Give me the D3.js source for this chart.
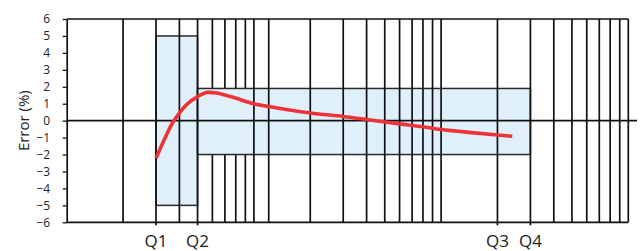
<!DOCTYPE html>
<html><head><meta charset="utf-8">
<script src="https://cdn.jsdelivr.net/npm/d3@7"></script>
<style>body{margin:0;background:#fff}</style>
</head><body><svg id="c" width="641" height="251"></svg>
<script>
// ---- data ----
const gridUnder = [6, 7, 8, 9];
const gridOver = [2, 3, 4, 5, 10, 12, 20, 30, 40, 50, 60, 70, 80, 90, 100, 200, 300, 400, 500, 600, 700, 800, 900, 1000];
const qNames = ["Q1", "Q2", "Q3", "Q4"];
const qValues = [3, 5, 200, 300];
const yTicks = [6, 5, 4, 3, 2, 1, 0, -1, -2, -3, -4, -5, -6];
const boxX0 = [3, 5];
const boxX1 = [5, 300];
const boxLow = [-5, -2];
const boxHigh = [5, 1.9];
const curveX = [3, 3.4, 3.7, 4, 4.4, 5, 5.6, 6.3, 7.5, 10, 12, 20, 30, 40, 60, 80, 100, 150, 200, 240];
const curveY = [-2.22, -0.88, -0.08, 0.45, 0.98, 1.42, 1.66, 1.63, 1.42, 1.0, 0.83, 0.45, 0.25, 0.07, -0.19, -0.36, -0.52, -0.72, -0.85, -0.92];

// ---- layout ----
const W = 641, H = 251;
const m = {left: 66.7, right: 12.7, top: 19, bottom: 28.7};
const svg = d3.select("#c");
const x = d3.scaleLog().domain([1, 1000]).range([m.left, W - m.right]);
const y = d3.scaleLinear().domain([-6, 6]).range([H - m.bottom, m.top]);
const font = "'Open Sans', 'Noto Sans', sans-serif";
const gridCol = "#111";

function drawGrid(vals) {
  svg.append("g").selectAll("line").data(vals).join("line")
    .attr("x1", d => x(d)).attr("x2", d => x(d))
    .attr("y1", y(6)).attr("y2", y(-6))
    .attr("stroke", gridCol).attr("stroke-width", 1.7);
}

drawGrid(gridUnder);

// boxes
const boxes = boxX0.map((d, i) => ({x0: d, x1: boxX1[i], lo: boxLow[i], hi: boxHigh[i]}));
svg.append("g").selectAll("rect").data(boxes).join("rect")
  .attr("x", d => x(d.x0)).attr("width", d => x(d.x1) - x(d.x0))
  .attr("y", d => y(d.hi)).attr("height", d => y(d.lo) - y(d.hi))
  .attr("fill", "#dff0fa").attr("stroke", "#2a2a2a").attr("stroke-width", 1.5);

drawGrid(gridOver);

// Q ticks below
svg.append("g").selectAll("line").data(qValues).join("line")
  .attr("x1", d => x(d)).attr("x2", d => x(d))
  .attr("y1", y(-6)).attr("y2", y(-6) + 3)
  .attr("stroke", gridCol).attr("stroke-width", 1.7);

// frame top/bottom
svg.append("g").selectAll("line").data([6, -6]).join("line")
  .attr("x1", x(1)).attr("x2", x(1000))
  .attr("y1", d => y(d)).attr("y2", d => y(d))
  .attr("stroke", gridCol).attr("stroke-width", 1.7);

// zero line
svg.append("line")
  .attr("x1", x(1)).attr("x2", W - 4)
  .attr("y1", y(0)).attr("y2", y(0))
  .attr("stroke", gridCol).attr("stroke-width", 1.7);

// y axis
const yAxis = d3.axisLeft(y).tickValues(yTicks).tickFormat(d3.format("d"))
  .tickSize(4).tickSizeOuter(0).tickPadding(12.5);
const gy = svg.append("g").attr("transform", `translate(${m.left},0)`).call(yAxis);
gy.select(".domain").attr("stroke", gridCol).attr("stroke-width", 1.7);
gy.selectAll(".tick line").attr("stroke", gridCol).attr("stroke-width", 1.3);
gy.selectAll(".tick text").attr("font-family", font).attr("font-size", 12).attr("fill", "#222");

// curve
const pts = curveX.map((d, i) => [x(d), y(curveY[i])]);
svg.append("path").attr("d", d3.line().curve(d3.curveCatmullRom.alpha(0.5))(pts))
  .attr("fill", "none").attr("stroke", "#ee3338").attr("stroke-width", 3.6);

// Q labels
svg.append("g").selectAll("text").data(qNames).join("text")
  .attr("x", (d, i) => x(qValues[i])).attr("y", 247)
  .attr("text-anchor", "middle")
  .attr("font-family", font).attr("font-size", 17).attr("fill", "#222")
  .text(d => d);

// y label
svg.append("text")
  .attr("transform", `translate(29,${y(0)}) rotate(-90)`)
  .attr("text-anchor", "middle")
  .attr("font-family", font).attr("font-size", 15).attr("fill", "#222")
  .text("Error (%)");
</script>
</body></html>
